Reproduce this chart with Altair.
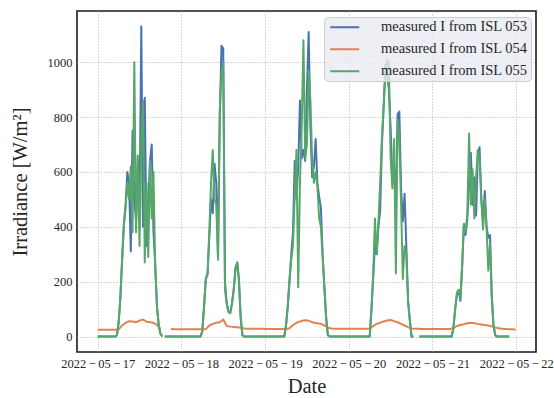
import altair as alt
import pandas as pd

SERIES = ["measured I from ISL 053", "measured I from ISL 054", "measured I from ISL 055"]
COLORS = ["#4C72B0", "#DD8452", "#55A868"]
DAYS = ["2022-05-17", "2022-05-18", "2022-05-19", "2022-05-20", "2022-05-21"]
X_TICKS = ["2022-05-17", "2022-05-18", "2022-05-19", "2022-05-20", "2022-05-21", "2022-05-22"]
Y_TICKS = [0, 200, 400, 600, 800, 1000]

# ISL 053 daytime irradiance, 30-min steps from 05:00 to 18:30
ISL053_D1 = [0, 5, 50, 140, 280, 410, 480, 600, 560, 310, 750, 500, 420, 600,
             450, 1130, 400, 870, 330, 480, 640, 700, 380, 260, 110, 40, 10, 0]
ISL053_D2 = [0, 0, 20, 110, 210, 230, 360, 500, 450, 630, 560, 300, 800, 1060,
             1050, 200, 120, 90, 85, 120, 170, 250, 270, 210, 70, 5, 0, 0]
ISL053_D3 = [0, 0, 40, 110, 200, 300, 380, 640, 500, 620, 860, 650, 680, 640,
             900, 1110, 760, 580, 620, 720, 560, 510, 470, 300, 180, 70, 5, 0]
ISL053_D4 = [0, 0, 0, 100, 220, 330, 300, 400, 460, 700, 840, 990, 960, 900,
             760, 560, 620, 480, 810, 820, 540, 420, 520, 330, 130, 60, 0, 0]
ISL053_D5 = [0, 0, 30, 100, 150, 170, 130, 250, 410, 370, 430, 560, 670, 480,
             580, 440, 660, 690, 500, 420, 530, 400, 360, 370, 150, 40, 5, 0]

# ISL 055 daytime irradiance, 30-min steps from 05:00 to 18:30
ISL055_D1 = [0, 5, 50, 140, 280, 400, 470, 560, 500, 620, 380, 1000, 380, 660,
             330, 700, 860, 270, 560, 290, 640, 430, 600, 250, 110, 40, 10, 0]
ISL055_D2 = [0, 0, 20, 110, 210, 225, 380, 560, 680, 500, 480, 280, 820, 960,
             1000, 170, 120, 90, 85, 120, 170, 240, 270, 200, 70, 5, 0, 0]
ISL055_D3 = [0, 0, 40, 110, 210, 280, 330, 520, 680, 180, 560, 760, 1080, 650,
             700, 970, 860, 640, 560, 600, 550, 430, 400, 290, 180, 70, 5, 0]
ISL055_D4 = [0, 0, 0, 100, 220, 430, 300, 420, 560, 720, 840, 950, 1010, 990,
             650, 540, 720, 230, 790, 720, 480, 210, 330, 300, 130, 60, 0, 0]
ISL055_D5 = [0, 0, 30, 100, 160, 170, 140, 260, 410, 380, 450, 740, 480, 610,
             430, 580, 680, 650, 500, 390, 500, 400, 240, 340, 140, 40, 5, 0]

# night / gap points shared by ISL 053 and ISL 055 (None = no data)
NIGHT_TIMES = ["2022-05-17 00:00", "2022-05-17 18:45", "2022-05-17 19:15",
               "2022-05-20 19:00", "2022-05-20 20:15", "2022-05-21 22:00"]
NIGHT_VALUES = [0, None, 0, None, 0, 0]

# ISL 054 hourly values 00:00 .. 23:00 (None = no data)
ISL054_D1 = [25, 25, 25, 25, 25, 25, 26, 40, 50, 56, 55, 52,
             58, 62, 54, 52, 50, 42, 28, None, None, 27, 26, 26]
ISL054_D2 = [26, 26, 26, 26, 26, 26, 26, 27, 40, 46, 50, 52,
             62, 38, 36, 35, 34, 32, 29, 28, 28, 28, 28, 28]
ISL054_D3 = [27, 27, 27, 27, 27, 27, 27, 30, 42, 50, 55, 58,
             59, 55, 50, 48, 46, 40, 32, 29, 28, 28, 28, 28]
ISL054_D4 = [28, 28, 28, 28, 28, 28, 28, 38, 46, 50, 55, 58,
             60, 56, 52, 46, 40, 34, 29, 28, 28, 27, 27, 27]
ISL054_D5 = [27, 27, 27, 27, 27, 27, 32, 38, 42, 45, 48, 50,
             48, 46, 44, 42, 40, 37, 33, 30, 28, 27, 26, 26]
ISL054_END_TIME = "2022-05-21 23:50"
ISL054_END_VALUE = 25

rows = []
for name, days in ((SERIES[0], [ISL053_D1, ISL053_D2, ISL053_D3, ISL053_D4, ISL053_D5]),
                   (SERIES[2], [ISL055_D1, ISL055_D2, ISL055_D3, ISL055_D4, ISL055_D5])):
    for day, vals in zip(DAYS, days):
        for i, v in enumerate(vals):
            rows.append((name, pd.Timestamp(day) + pd.Timedelta(minutes=300 + 30 * i), v))
    for t, v in zip(NIGHT_TIMES, NIGHT_VALUES):
        rows.append((name, pd.Timestamp(t), v))
for day, vals in zip(DAYS, [ISL054_D1, ISL054_D2, ISL054_D3, ISL054_D4, ISL054_D5]):
    for i, v in enumerate(vals):
        rows.append((SERIES[1], pd.Timestamp(day) + pd.Timedelta(hours=i), v))
rows.append((SERIES[1], pd.Timestamp(ISL054_END_TIME), ISL054_END_VALUE))

df = pd.DataFrame(rows, columns=["series", "time", "value"])
df = df.sort_values(["series", "time"]).reset_index(drop=True)


def dt(ts):
    t = pd.Timestamp(ts)
    return alt.DateTime(year=t.year, month=t.month, date=t.day, hours=t.hour, minutes=t.minute)


FONT = "Liberation Serif"
TEXT = "#262626"

x = alt.X(
    "time:T",
    title="Date",
    scale=alt.Scale(domain=[dt("2022-05-16 18:04"), dt("2022-05-22 05:41")]),
    axis=alt.Axis(
        values=[dt(t) for t in X_TICKS],
        format="%Y\u2009\u2212\u2009%m\u2009\u2212\u2009%d",
        labelAngle=0,
        labelFont=FONT, labelFontSize=12.5, labelColor=TEXT, labelPadding=5,
        labelOverlap=False, labelFlush=False,
        ticks=False, tickSize=0, domain=False,
        grid=True, gridColor="#b0b0b0", gridDash=[1, 2], gridWidth=1,
        titleFont=FONT, titleFontSize=20.5, titleFontWeight="normal", titleColor=TEXT,
        titleY=34, titleBaseline="middle",
    ),
)
y = alt.Y(
    "value:Q",
    title="Irradiance [W/m²]",
    scale=alt.Scale(domain=[-56.5, 1186.5], nice=False, zero=False),
    axis=alt.Axis(
        values=Y_TICKS, format="d",
        labelFont=FONT, labelFontSize=12.5, labelColor=TEXT, labelPadding=5,
        ticks=False, tickSize=0, domain=False,
        grid=True, gridColor="#b0b0b0", gridDash=[1, 2], gridWidth=1,
        titleFont=FONT, titleFontSize=20.5, titleFontWeight="normal", titleColor=TEXT,
        titleX=-57, titleY=170.5, titleAlign="center", titleBaseline="middle",
    ),
)
color = alt.Color(
    "series:N",
    scale=alt.Scale(domain=SERIES, range=COLORS),
    legend=alt.Legend(
        title=None, orient="none", legendX=247, legendY=6,
        symbolType="M-2.9,0H2.9", symbolSize=100, symbolStrokeWidth=2,
        symbolOffset=10.5, labelOffset=29, rowPadding=7, padding=3,
        labelFont=FONT, labelFontSize=14.5, labelColor=TEXT,
        fillColor="rgba(234,234,242,0.8)", strokeColor="#cccccc", cornerRadius=4,
    ),
)

base = alt.Chart(df).mark_line(strokeWidth=2, strokeJoin="round").encode(x=x, y=y, color=color)
layers = [base.transform_filter(alt.datum.series == s) for s in SERIES]

chart = alt.layer(*layers).properties(
    width=459, height=341,
    autosize=alt.AutoSizeParams(type="none"),
    padding={"left": 77, "top": 11, "right": 18, "bottom": 46},
    background="white",
).configure_view(stroke="#1a1a1a", strokeWidth=1.6)

chart.save("out.html", embed_options={"renderer": "svg", "actions": False})
